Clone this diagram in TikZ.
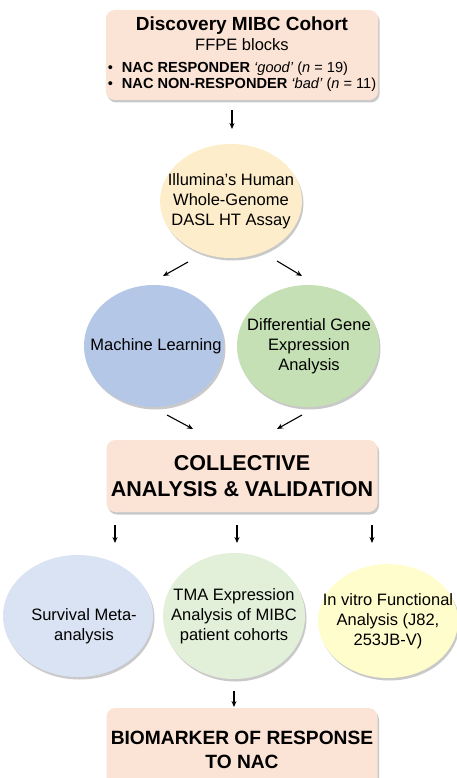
\documentclass[tikz,border=0pt]{standalone}
\usepackage{fontspec}
\setmainfont{Liberation Sans}
\usetikzlibrary{positioning,arrows.meta,shapes.geometric,shadows}
\definecolor{peach}{HTML}{FBE3D6}
\definecolor{assayfill}{HTML}{FDEDCA}
\definecolor{mlfill}{HTML}{B4C7E7}
\definecolor{degfill}{HTML}{C5E0B4}
\definecolor{survfill}{HTML}{DAE3F3}
\definecolor{tmafill}{HTML}{E2F0D9}
\definecolor{vitrofill}{HTML}{FFFDCC}

\begin{document}
\begin{tikzpicture}[x=1pt,y=-1pt,
    lift/.style={drop shadow={shadow xshift=1.5pt,shadow yshift=-2.5pt,opacity=0.3,fill=black!70}},
    stage/.style={rounded corners=9pt,fill=peach,lift,minimum width=271pt,align=center,inner sep=2pt},
    ell/.style={ellipse,lift,inner sep=0pt},
    etext/.style={align=center,inner sep=0pt,font=\fontsize{16.5}{20}\selectfont},
    arr/.style={line width=1.1pt,-{Stealth[length=6pt,width=5pt]}}]
    \useasboundingbox (0,0) rectangle (457,778);

    \node[stage,minimum height=90pt,font=\fontsize{16.5}{20}\selectfont] (cohort) at (242,55)
      {{\fontsize{19}{22}\selectfont\bfseries Discovery MIBC Cohort}\\
       FFPE blocks\\[2pt]
       {\fontsize{14.6}{16}\selectfont\begin{tabular}[t]{@{}l@{\hspace{9pt}}l@{}}
         • & \textbf{NAC RESPONDER} \textit{‘good’} (\textit{n} = 19)\\
         • & \textbf{NAC NON-RESPONDER} \textit{‘bad’} (\textit{n} = 11)
       \end{tabular}}};

    \node[ell,fill=assayfill,minimum width=142pt,minimum height=114pt,
      label={[etext]center:{Illumina’s Human\\Whole-Genome\\DASL HT Assay}}] (assay) at (231,201) {};
    \node[ell,fill=mlfill,minimum width=140pt,minimum height=122pt,
      label={[etext,xshift=2pt]center:{Machine Learning}}] (ml) at (154,346) {};
    \node[ell,fill=degfill,minimum width=142pt,minimum height=122pt,
      label={[etext,xshift=1pt]center:{Differential Gene\\Expression\\Analysis}}] (deg) at (308,346) {};

    \node[stage,minimum height=72pt,font=\fontsize{21.5}{26}\selectfont\bfseries] (collect) at (242,476)
      {COLLECTIVE\\ANALYSIS \& VALIDATION};

    \node[ell,fill=survfill,minimum width=150pt,minimum height=122pt,
      label={[etext,xshift=6pt,yshift=-10pt]center:{Survival Meta-\\analysis}}] (surv) at (78,616) {};
    \node[ell,fill=tmafill,minimum width=142pt,minimum height=126pt,
      label={[etext]center:{TMA Expression\\Analysis of MIBC\\patient cohorts}}] (tma) at (234,616) {};
    \node[ell,fill=vitrofill,minimum width=140pt,minimum height=114pt,
      label={[etext]center:{In vitro Functional\\Analysis (J82,\\253JB-V)}}] (vitro) at (388,621) {};

    \node[stage,minimum height=84pt,font=\fontsize{19.2}{24}\selectfont\bfseries] (marker) at (242,750)
      {BIOMARKER OF RESPONSE\\TO NAC};

    \coordinate (cohort-out) at (232,110);
    \coordinate (assay-in) at (232,129);
    \coordinate (assay-l) at (188,262);
    \coordinate (ml-in) at (163,276);
    \coordinate (assay-r) at (277,261);
    \coordinate (deg-in) at (302,276);
    \coordinate (ml-out) at (167,415);
    \coordinate (collect-l) at (193,429);
    \coordinate (deg-out) at (302,415);
    \coordinate (collect-r) at (277,429);
    \coordinate (surv-in) at (115,543);
    \coordinate (tma-in) at (237,543);
    \coordinate (vitro-in) at (372,543);
    \coordinate (tma-out) at (234,691);
    \coordinate (marker-in) at (234,707);

    \draw[arr] (cohort-out) -- (assay-in);
    \draw[arr] (assay-l) -- (ml-in);
    \draw[arr] (assay-r) -- (deg-in);
    \draw[arr] (ml-out) -- (collect-l);
    \draw[arr] (deg-out) -- (collect-r);
    \draw[arr] (collect.south -| surv-in) ++(0,13) -- (surv-in);
    \draw[arr] (collect.south -| tma-in) ++(0,13) -- (tma-in);
    \draw[arr] (collect.south -| vitro-in) ++(0,13) -- (vitro-in);
    \draw[arr] (tma-out) -- (marker-in);
  \end{tikzpicture}
\end{document}
